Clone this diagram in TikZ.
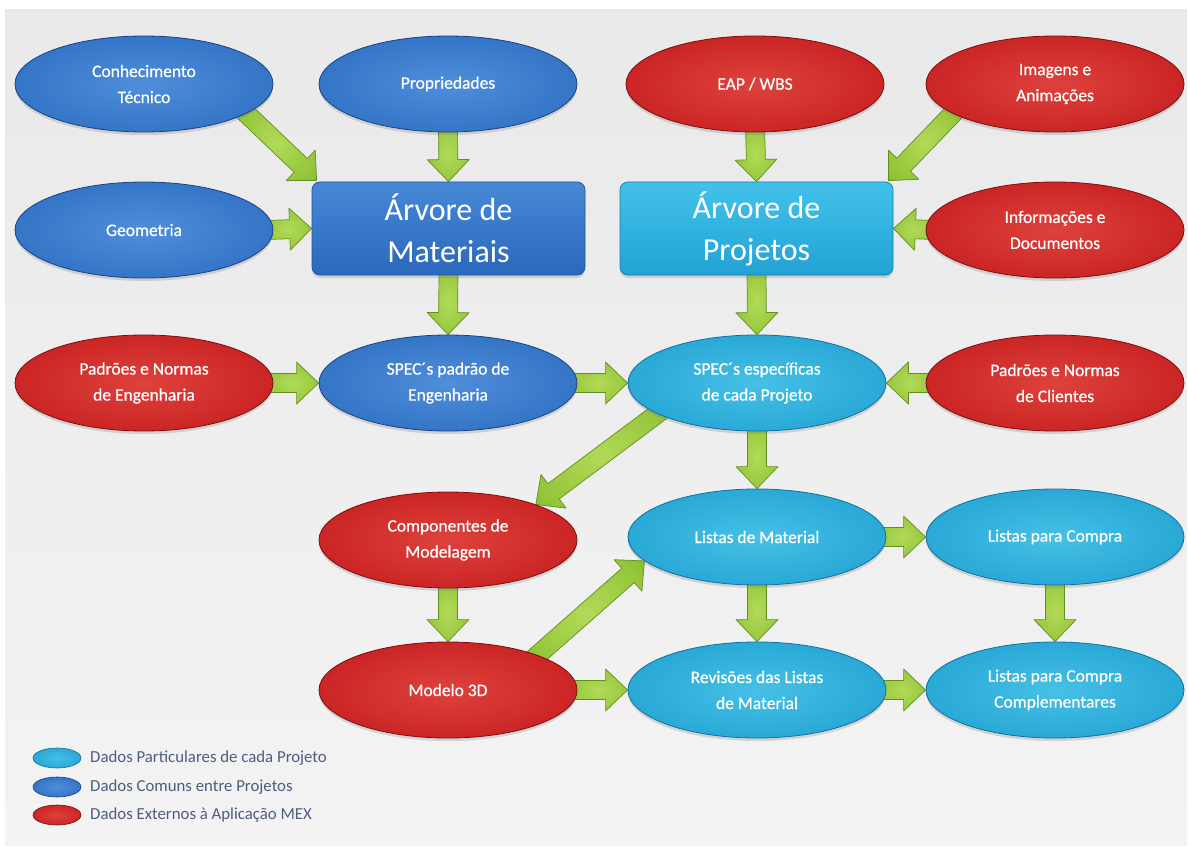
\documentclass[tikz,border=0pt]{standalone}
\usepackage{fontspec}
\setmainfont{Carlito}
\newfontfamily\lensfont{Carlito}[FakeBold=0.6]
\usetikzlibrary{calc,shapes.geometric,shadows}

% colours
\definecolor{bHi}{RGB}{78,142,218}
\definecolor{bMid}{RGB}{52,116,198}
\definecolor{bRim}{RGB}{26,66,134}
\definecolor{rHi}{RGB}{222,66,60}
\definecolor{rMid}{RGB}{202,36,36}
\definecolor{rRim}{RGB}{124,14,14}
\definecolor{cHi}{RGB}{70,192,230}
\definecolor{cMid}{RGB}{40,168,214}
\definecolor{cRim}{RGB}{18,112,158}
\definecolor{gHi}{RGB}{178,218,88}
\definecolor{gMid}{RGB}{146,196,56}
\definecolor{gLo}{RGB}{112,160,34}
\definecolor{gEdge}{RGB}{98,142,32}
\definecolor{boxBTop}{RGB}{70,136,214}
\definecolor{boxBBot}{RGB}{44,104,188}
\definecolor{boxBEdge}{RGB}{36,86,160}
\definecolor{boxCTop}{RGB}{66,194,234}
\definecolor{boxCBot}{RGB}{34,162,212}
\definecolor{boxCEdge}{RGB}{24,128,172}
\definecolor{bgA}{RGB}{233,233,233}
\definecolor{bgB}{RGB}{243,243,243}
\definecolor{legendInk}{RGB}{78,92,128}

% bevelled lens look for the ellipses
\pgfdeclareradialshading{lensBlue}{\pgfpoint{0bp}{0bp}}{color(0bp)=(bHi); color(26bp)=(bMid); color(43bp)=(bMid); color(50bp)=(bRim)}
\pgfdeclareradialshading{lensRed}{\pgfpoint{0bp}{0bp}}{color(0bp)=(rHi); color(26bp)=(rMid); color(43bp)=(rMid); color(50bp)=(rRim)}
\pgfdeclareradialshading{lensCyan}{\pgfpoint{0bp}{0bp}}{color(0bp)=(cHi); color(26bp)=(cMid); color(43bp)=(cMid); color(50bp)=(cRim)}
\pgfdeclareradialshading{arrowGreen}{\pgfpoint{0bp}{0bp}}{color(0bp)=(gHi); color(30bp)=(gMid); color(50bp)=(gLo)}

\pgfdeclarelayer{bglayer}
\pgfdeclarelayer{arrowlayer}
\pgfsetlayers{bglayer,arrowlayer,main}

% block arrow from a tail point to a tip point
\newcommand\greenarrow[2]{%
  \coordinate (ga-t) at #1;
  \coordinate (ga-e) at #2;
  \coordinate (ga-h) at ($(ga-e)!22pt!(ga-t)$);
  \draw[arrowbody]
    ($(ga-t)!9.5pt!90:(ga-e)$) -- ($(ga-h)!9.5pt!90:(ga-e)$) --
    ($(ga-h)!21pt!90:(ga-e)$) -- (ga-e) --
    ($(ga-h)!21pt!-90:(ga-e)$) -- ($(ga-h)!9.5pt!-90:(ga-e)$) --
    ($(ga-t)!9.5pt!-90:(ga-e)$) -- cycle;}

\tikzset{
  lens/.style={ellipse, minimum width=258pt, minimum height=96pt, inner sep=0pt,
    align=center, text=white, font=\lensfont\fontsize{17.5}{26}\selectfont,
    drop shadow={shadow xshift=0pt, shadow yshift=-3pt, opacity=0.28}},
  lensB/.style={lens, shade, shading=lensBlue, draw=bRim, line width=0.8pt},
  lensR/.style={lens, shade, shading=lensRed, draw=rRim, line width=0.8pt},
  lensC/.style={lens, shade, shading=lensCyan, draw=cRim, line width=0.8pt},
  treebox/.style={rectangle, rounded corners=8pt, minimum width=273pt, minimum height=93pt,
    inner sep=0pt, align=center, text=white, font=\fontsize{32}{42}\selectfont,
    line width=0.8pt,
    drop shadow={shadow xshift=0pt, shadow yshift=-3pt, opacity=0.28}},
  boxBlue/.style={treebox, top color=boxBTop, bottom color=boxBBot, draw=boxBEdge},
  boxCyan/.style={treebox, top color=boxCTop, bottom color=boxCBot, draw=boxCEdge},
  arrowbody/.style={shade, shading=arrowGreen, draw=gEdge, line width=0.7pt, line join=round},
  keyshape/.style={ellipse, minimum width=48pt, minimum height=20pt, inner sep=0pt, line width=0.6pt},
  keytext/.style={anchor=west, text=legendInk, inner sep=0pt, font=\fontsize{16.8}{19}\selectfont},
}

\begin{document}
\begin{tikzpicture}[x=1pt,y=-1pt]
\useasboundingbox (0,0) rectangle (1190,853);

\begin{pgfonlayer}{bglayer}
  \fill[white] (0,0) rectangle (1190,853);
  \shade[top color=bgA, bottom color=bgB] (5,10) rectangle (1187,845);
\end{pgfonlayer}

% first row
\node[lensB] (con)  at (144,84)  {Conhecimento\\Técnico};
\node[lensB] (prop) at (448,84)  {Propriedades};
\node[lensR] (eap)  at (755,84)  {EAP / WBS};
\node[lensR] (img)  at (1055,84) {Imagens e\\Animações};

% the two trees
\node[lensB] (geo)  at (144,230) {Geometria};
\node[boxBlue] (mat)  at (448.5,228.5) {Árvore de\\Materiais};
\node[boxCyan] (proj) at (756.5,228.5) {Árvore de\\Projetos};
\node[lensR] (info) at (1055,230) {Informações e\\Documentos};

% specifications
\node[lensR] (padE)  at (144,383)  {Padrões e Normas\\de Engenharia};
\node[lensB] (specP) at (448,383)  {SPEC´s padrão de\\Engenharia};
\node[lensC] (specE) at (757,383)  {SPEC´s específicas\\de cada Projeto};
\node[lensR] (padC)  at (1055,383) {Padrões e Normas\\de Clientes};

% modelling and material lists
\node[lensR] (comp)  at (448,540)  {Componentes de\\Modelagem};
\node[lensC] (lm)    at (757,537)  {Listas de Material};
\node[lensC] (lc)    at (1055,537) {Listas para Compra};

\node[lensR] (model) at (448,690)  {Modelo 3D};
\node[lensC] (rev)   at (757,690)  {Revisões das Listas\\de Material};
\node[lensC] (lcc)   at (1055,690) {Listas para Compra\\Complementares};

% connectors
\begin{pgfonlayer}{arrowlayer}
  \greenarrow{($(con.-15)!6pt!(con.center)$)}{($(mat.north west)+(5,-1)$)}
  \greenarrow{($(prop.south)+(0,-6)$)}{(mat.north)}
  \greenarrow{($(geo.east)+(-8,0)$)}{(mat.west)}
  \greenarrow{($(eap.south)+(0,-6)$)}{(proj.north)}
  \greenarrow{($(img.195)!6pt!(img.center)$)}{($(proj.north east)+(-5,-1)$)}
  \greenarrow{($(info.west)+(8,0)$)}{(proj.east)}
  \greenarrow{($(mat.south)+(0,-6)$)}{(specP.north)}
  \greenarrow{($(proj.south)+(0,-6)$)}{(specE.north)}
  \greenarrow{($(padE.east)+(-8,0)$)}{(specP.west)}
  \greenarrow{($(specP.east)+(-8,0)$)}{(specE.west)}
  \greenarrow{($(padC.west)+(8,0)$)}{(specE.east)}
  \greenarrow{($(specE.196)!8pt!(specE.center)$)}{(comp.22)}
  \greenarrow{($(specE.south)+(0,-6)$)}{(lm.north)}
  \greenarrow{($(comp.south)+(0,-6)$)}{(model.north)}
  \greenarrow{($(model.20)!8pt!(model.center)$)}{(lm.192)}
  \greenarrow{($(model.east)+(-8,0)$)}{(rev.west)}
  \greenarrow{($(lm.east)+(-8,0)$)}{(lc.west)}
  \greenarrow{($(lm.south)+(0,-6)$)}{(rev.north)}
  \greenarrow{($(lc.south)+(0,-6)$)}{(lcc.north)}
  \greenarrow{($(rev.east)+(-8,0)$)}{(lcc.west)}
\end{pgfonlayer}

% legend
\node[keyshape, shade, shading=lensCyan, draw=cRim] (keyC) at (57,758) {};
\node[keyshape, shade, shading=lensBlue, draw=bRim] (keyB) at (57,787) {};
\node[keyshape, shade, shading=lensRed, draw=rRim]  (keyR) at (57,815) {};
\node[keytext] (txtC) at (90,758) {Dados Particulares de cada Projeto};
\node[keytext] (txtB) at (90,787) {Dados Comuns entre Projetos};
\node[keytext] (txtR) at (90,815) {Dados Externos à Aplicação MEX};
\end{tikzpicture}
\end{document}
